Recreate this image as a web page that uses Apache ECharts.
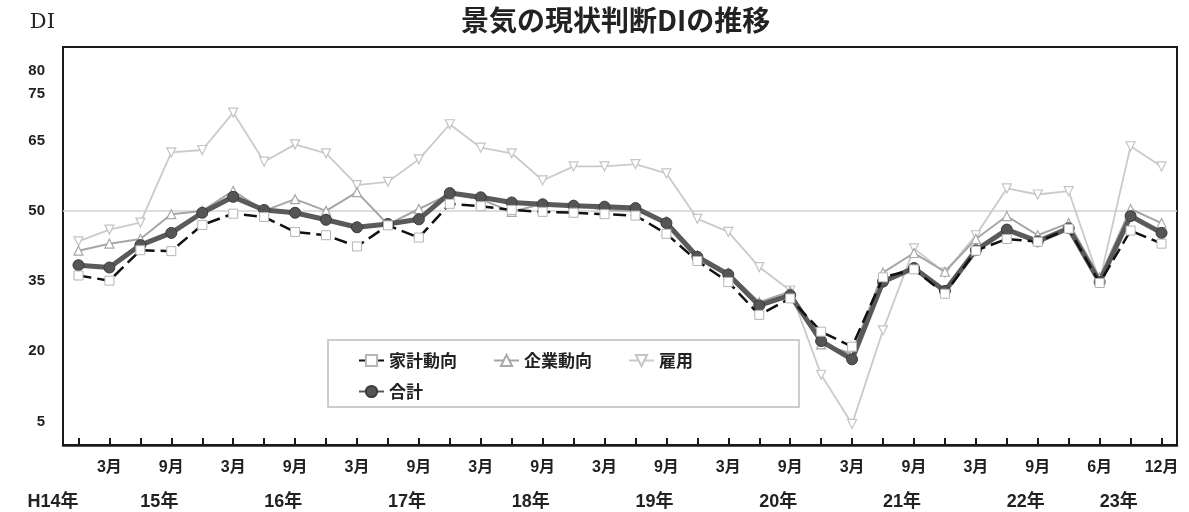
<!DOCTYPE html>
<html>
<head>
<meta charset="utf-8">
<script src="https://cdn.jsdelivr.net/npm/echarts@6/dist/echarts.min.js"></script>
<style>
  html, body { margin: 0; padding: 0; background: #ffffff; }
  #chart { width: 1189px; height: 512px; }
</style>
</head>
<body>
<div id="chart"></div>
<script>
  // 四半期ごとの目盛ラベル（空文字は表示しない）
  var monthLabels = ['', '3月', '', '9月', '', '3月', '', '9月', '', '3月', '', '9月',
    '', '3月', '', '9月', '', '3月', '', '9月', '', '3月', '', '9月',
    '', '3月', '', '9月', '', '3月', '', '9月', '', '6月', '', '12月'];
  var yearLabels = ['H14年', '', '15年', '', '', '', '16年', '', '', '', '17年', '',
    '', '', '18年', '', '', '', '19年', '', '', '', '20年', '',
    '', '', '21年', '', '', '', '22年', '', '', '23年', '', ''];
  var yTickLabels = [5, 20, 35, 50, 65, 75, 80];

  var kakei = [36.2, 35.1, 41.6, 41.4, 47.0, 49.4, 48.7, 45.5, 44.8, 42.4, 46.9, 44.3,
    51.5, 51.0, 50.2, 49.8, 49.6, 49.3, 49.0, 45.1, 39.3, 34.8, 27.8, 31.3,
    24.2, 21.0, 35.8, 37.5, 32.3, 41.5, 44.0, 43.4, 46.2, 34.6, 45.8, 43.0];
  var kigyo = [41.5, 43.0, 44.0, 49.3, 50.0, 54.3, 50.0, 52.5, 50.0, 54.0, 47.1, 50.4,
    53.6, 52.5, 49.8, 51.5, 51.3, 50.2, 50.0, 47.8, 40.5, 36.8, 30.5, 32.8,
    21.5, 19.5, 36.8, 41.0, 37.0, 44.0, 48.9, 44.8, 47.4, 35.8, 50.4, 47.4];
  var koyo = [43.5, 46.0, 47.5, 62.5, 63.0, 71.0, 60.5, 64.2, 62.3, 55.5, 56.2, 61.0,
    68.5, 63.5, 62.3, 56.5, 59.5, 59.5, 60.0, 58.0, 48.3, 45.5, 38.0, 33.0,
    15.0, 4.5, 24.5, 42.0, 36.8, 44.8, 54.8, 53.5, 54.2, 35.0, 63.8, 59.5];
  var goukei = [38.4, 37.9, 42.7, 45.3, 49.6, 53.0, 50.2, 49.6, 48.1, 46.5, 47.2, 48.2,
    53.8, 52.9, 51.8, 51.4, 51.1, 50.9, 50.6, 47.4, 40.2, 36.4, 29.8, 32.0,
    22.2, 18.3, 34.9, 37.8, 32.9, 41.6, 46.0, 43.5, 46.3, 34.8, 48.9, 45.3];

  var labelFont = "'Liberation Sans', 'Noto Sans CJK JP', sans-serif";
  var cjkFont = "'Noto Sans CJK JP', sans-serif";
  var cats = monthLabels.map(function (m, i) { return String(i); });

  var legendText = { fontFamily: cjkFont, fontSize: 17, fontWeight: 'bold', color: '#222' };

  var chart = echarts.init(document.getElementById('chart'));
  var option = {
    backgroundColor: '#ffffff',
    animation: false,
    title: {
      text: '景気の現状判断DIの推移',
      left: 461,
      top: 6,
      padding: 0,
      textStyle: { fontFamily: cjkFont, fontSize: 28, fontWeight: 'bold', color: '#222' }
    },
    // 凡例は2段：上段3項目（枠付き）、下段に合計
    legend: [{
      data: ['家計動向', '企業動向', '雇用'],
      left: 328,
      top: 340,
      orient: 'horizontal',
      backgroundColor: '#ffffff',
      borderColor: '#bdbdbd',
      borderWidth: 1.5,
      padding: [12, 106, 38, 30],
      itemGap: 36,
      itemWidth: 25,
      itemHeight: 14,
      textStyle: legendText
    }, {
      data: ['合計'],
      left: 358,
      top: 383,
      orient: 'horizontal',
      padding: 0,
      itemWidth: 25,
      itemHeight: 14,
      textStyle: legendText
    }],
    grid: {
      left: 63,
      right: 12,
      top: 47,
      bottom: 67,
      show: true,
      borderColor: '#1a1a1a',
      borderWidth: 2,
      backgroundColor: 'transparent'
    },
    xAxis: [{
      type: 'category',
      data: cats,
      boundaryGap: true,
      axisLine: { show: true, lineStyle: { color: '#1a1a1a', width: 2.5 } },
      axisTick: {
        show: true, inside: true, alignWithLabel: true, interval: 0, length: 7,
        lineStyle: { color: '#1a1a1a', width: 2 }
      },
      axisLabel: {
        interval: 0,
        margin: 15,
        fontFamily: labelFont,
        fontSize: 16,
        fontWeight: 'bold',
        color: '#222',
        formatter: function (v, i) { return monthLabels[i]; }
      },
      splitLine: { show: false }
    }, {
      type: 'category',
      position: 'bottom',
      data: cats.map(function (c, i) {
        return i === 0 ? { value: c, textStyle: { align: 'right' } } : c;
      }),
      boundaryGap: true,
      axisLine: { show: false },
      axisTick: { show: false },
      axisLabel: {
        interval: 0,
        margin: 48,
        align: 'left',
        fontFamily: labelFont,
        fontSize: 18,
        fontWeight: 'bold',
        color: '#222',
        formatter: function (v, i) { return yearLabels[i]; }
      },
      splitLine: { show: false }
    }],
    yAxis: {
      type: 'value',
      min: 0,
      max: 85,
      interval: 5,
      name: 'DI',
      nameLocation: 'end',
      nameGap: 14,
      nameTextStyle: {
        fontFamily: "'DejaVu Serif', serif",
        fontSize: 21,
        color: '#222',
        align: 'right',
        padding: [0, 8, 0, 0]
      },
      axisLine: { show: true, lineStyle: { color: '#1a1a1a', width: 2 } },
      axisTick: { show: false },
      splitLine: { show: false },
      axisLabel: {
        margin: 18,
        fontFamily: labelFont,
        fontSize: 15,
        fontWeight: 'bold',
        color: '#222',
        formatter: function (v) { return yTickLabels.indexOf(v) >= 0 ? String(v) : ''; }
      }
    },
    series: [{
      name: '雇用',
      type: 'line',
      data: koyo,
      z: 2,
      symbol: 'triangle',
      symbolRotate: 180,
      symbolSize: 9,
      lineStyle: { color: '#cacaca', width: 1.8 },
      itemStyle: { color: '#ffffff', borderColor: '#c4c4c4', borderWidth: 1.2 }
    }, {
      name: '企業動向',
      type: 'line',
      data: kigyo,
      z: 3,
      symbol: 'triangle',
      symbolSize: 9,
      lineStyle: { color: '#a6a6a6', width: 2 },
      itemStyle: { color: '#ffffff', borderColor: '#a8a8a8', borderWidth: 1.2 }
    }, {
      name: '合計',
      type: 'line',
      data: goukei,
      z: 4,
      symbol: 'circle',
      symbolSize: 11,
      lineStyle: { color: '#5a5a5a', width: 5 },
      itemStyle: { color: '#555555', borderColor: '#3c3c3c', borderWidth: 1 },
      markLine: {
        silent: true,
        symbol: ['none', 'none'],
        label: { show: false },
        lineStyle: { color: '#d2d2d2', width: 1.5, type: 'solid' },
        data: [{ yAxis: 50 }],
        z: 1
      }
    }, {
      name: '家計動向',
      type: 'line',
      data: kakei,
      z: 5,
      symbol: 'rect',
      symbolSize: 9,
      lineStyle: { color: '#111111', width: 2.5, type: [13, 6] },
      itemStyle: { color: '#ffffff', borderColor: '#b5b5b5', borderWidth: 1 }
    }]
  };
  chart.setOption(option);
</script>
</body>
</html>
